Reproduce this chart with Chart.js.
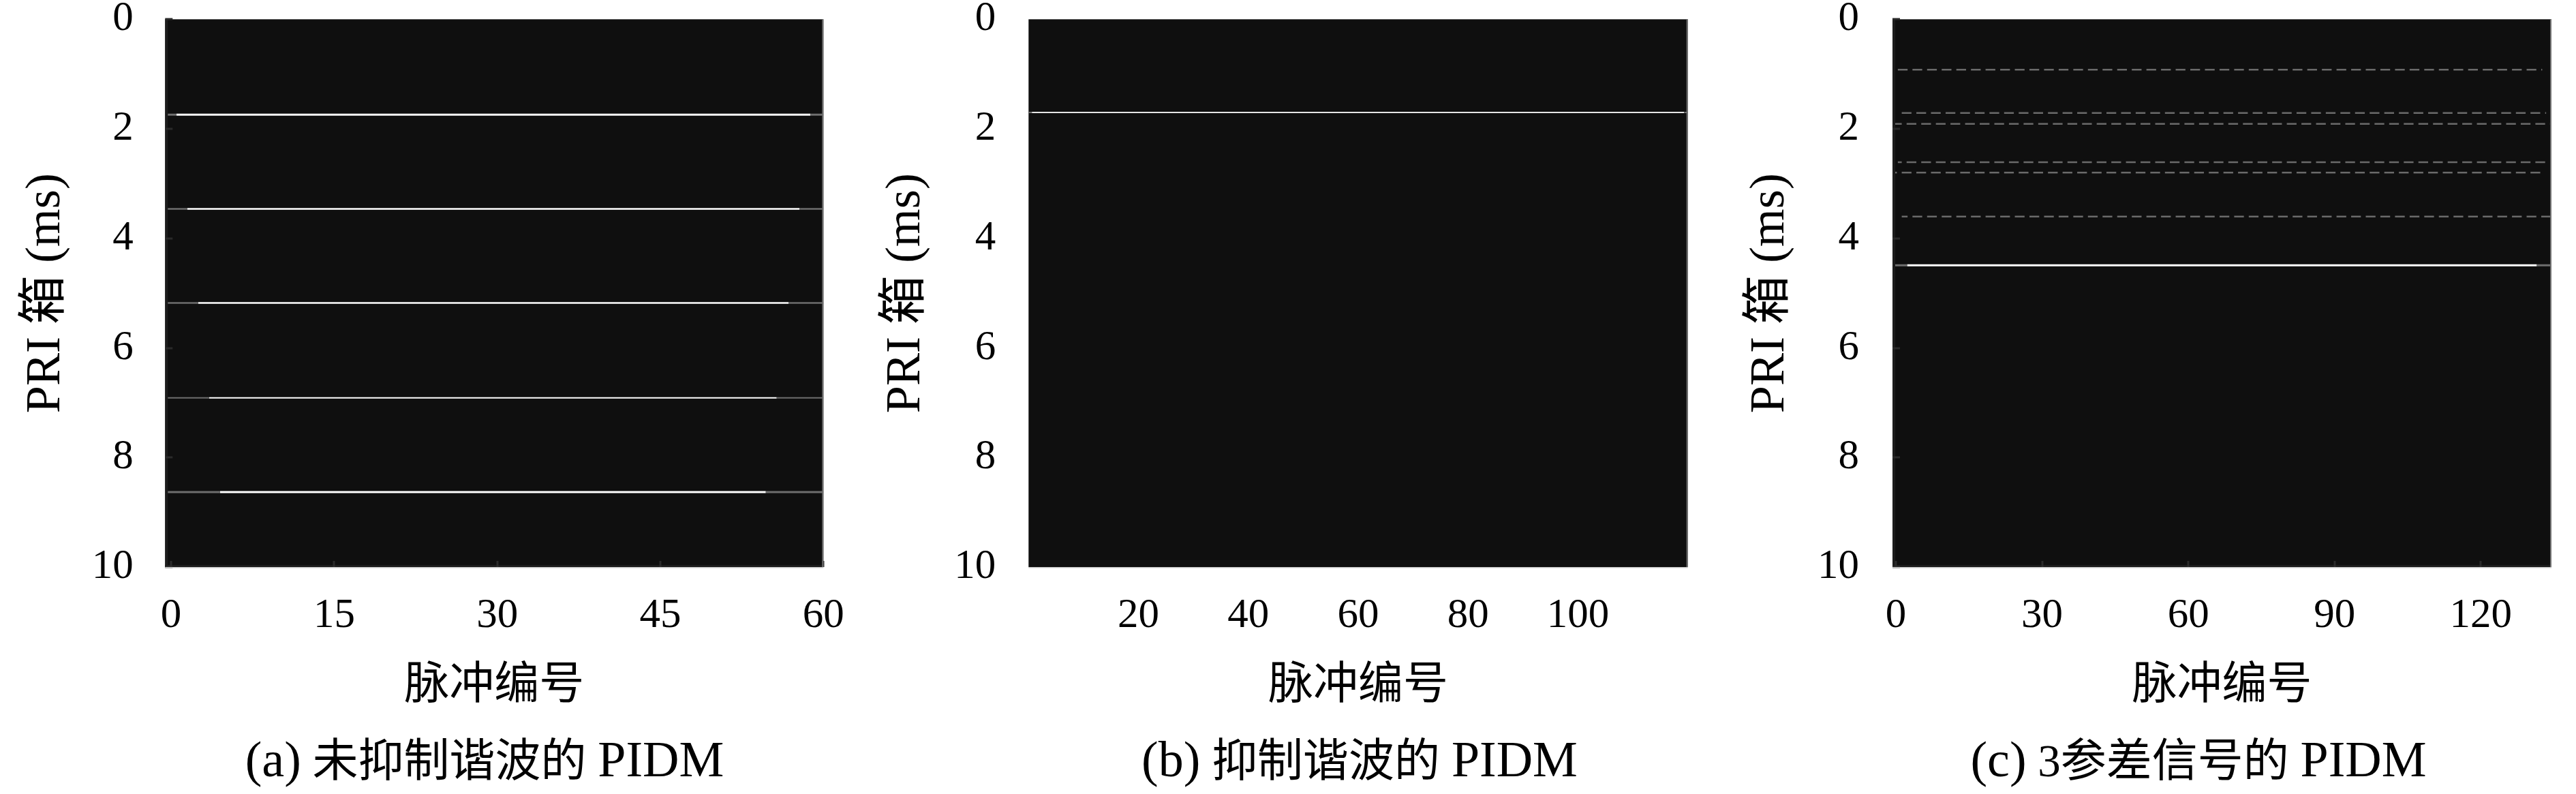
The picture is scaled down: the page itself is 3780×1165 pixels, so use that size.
<!DOCTYPE html>
<html><head><meta charset="utf-8">
<script src="https://cdn.jsdelivr.net/npm/chart.js@4/dist/chart.umd.min.js"></script>
<style>
html,body{margin:0;padding:0;background:#fff;}
#wrap{position:relative;width:3780px;height:1165px;overflow:hidden;background:#fff;}
canvas{position:absolute;top:0;}
.cap{position:absolute;top:1074px;width:1200px;text-align:center;font-family:'Liberation Serif','Noto Sans CJK SC',serif;font-size:67px;line-height:80px;color:#000;white-space:nowrap;}
.cap .lat{font-size:74px;}
</style></head><body>
<div id="wrap">
<canvas id="ca" width="1260" height="1165" style="left:0px"></canvas>
<canvas id="cb" width="1260" height="1165" style="left:1260px"></canvas>
<canvas id="cc" width="1260" height="1165" style="left:2520px"></canvas>
<div class="cap" id="capA" style="left:111px"></div>
<div class="cap" id="capB" style="left:1395px"></div>
<div class="cap" id="capC" style="left:2626px"></div>
</div>
<script>
// ---------- text ----------
const xTitle = '脉冲编号';
const yTitle = 'PRI 箱 (ms)';
const captionTags = ['(a)', '(b)', '(c)'];
const captionTexts = ['未抑制谐波的', '抑制谐波的', '3参差信号的'];
const captionTail = 'PIDM';

// ---------- ticks ----------
const yTicks = [0, 2, 4, 6, 8, 10];
const aXTicks = [0, 15, 30, 45, 60];
const bXTicks = [20, 40, 60, 80, 100];
const cXTicks = [0, 30, 60, 90, 120];

// ---------- axis ranges ----------
const yRange = [0, 10];
const aXRange = [-0.55, 60];
const bXRange = [0, 120];
const cXRange = [-0.7, 134.5];

// ---------- (a) PIDM without harmonic suppression ----------
const aRows = [1.74, 3.46, 5.18, 6.91, 8.63];      // PRI bin (ms)
const aBrightFrom = [0.5, 1.5, 2.5, 3.5, 4.5];     // pulse index
const aBrightTo = [58.8, 57.8, 56.8, 55.7, 54.7];

// ---------- (b) PIDM with harmonic suppression ----------
const bRows = [1.70];
const bBrightFrom = [0.6];
const bBrightTo = [119.3];

// ---------- (c) 3-stagger PIDM ----------
const cFaintRows = [0.92, 1.71, 1.91, 2.61, 2.80, 3.60];
const cFaintFrom = [0.4, 1.2, -0.7, 0.4, -0.7, 1.2];
const cFaintTo = [132.6, 133.4, 134.5, 133.4, 132.6, 134.5];
const cFaintLitStart = [0.4, 1.2, 2.2, 2.2, 1.2, 0.4]; // pulse where a lit pair begins
const cStaggerPeriod = 3;   // pulses per stagger cycle
const cLitPulses = 2;       // lit pulses per cycle
const cRows = [4.49];
const cBrightFrom = [2.3];
const cBrightTo = [131.5];

// ---------- styles ----------
const BG = '#0f0f0f';
const WHITE = '#ffffff';
const DIM = '#6e6e6e';
const aWidths = [3, 2.5, 2.5, 2, 3];
const SERIF = "'Liberation Serif','Noto Sans CJK SC',serif";

['capA', 'capB', 'capC'].forEach((id, i) => {
  const el = document.getElementById(id);
  const s1 = document.createElement('span'); s1.className = 'lat'; s1.textContent = captionTags[i];
  const t = document.createTextNode(' ' + captionTexts[i] + ' ');
  const s2 = document.createElement('span'); s2.className = 'lat'; s2.textContent = captionTail;
  el.appendChild(s1); el.appendChild(t); el.appendChild(s2);
});

function seg(x0, x1, y, color, width, extra) {
  return Object.assign({
    data: [{x: x0, y: y}, {x: x1, y: y}],
    borderColor: color, backgroundColor: color, borderWidth: width,
    pointRadius: 0, pointHoverRadius: 0, fill: false, tension: 0,
    borderCapStyle: 'butt', clip: 0
  }, extra || {});
}

const frame = {
  id: 'frame',
  beforeDatasetsDraw(chart) {
    const {ctx, chartArea: a} = chart;
    ctx.save();
    ctx.fillStyle = BG;
    ctx.fillRect(a.left, a.top, a.right - a.left, a.bottom - a.top);
    ctx.restore();
  },
  afterDatasetsDraw(chart, args, o) {
    const {ctx, chartArea: a, scales} = chart;
    ctx.save();
    if (o.inner) {
      ctx.fillStyle = '#1c1c1c';
      ctx.fillRect(a.left, a.top, 4, a.bottom - a.top);
      ctx.fillRect(a.left, a.bottom - 3, a.right - a.left, 3);
      ctx.strokeStyle = '#2a2a2a';
      ctx.lineWidth = 3;
      ctx.beginPath();
      for (const v of o.xTicks) {
        const px = Math.round(scales.x.getPixelForValue(v));
        ctx.moveTo(px, a.bottom); ctx.lineTo(px, a.bottom - 9);
      }
      for (const v of yTicks) {
        const py = Math.round(scales.y.getPixelForValue(v));
        ctx.moveTo(a.left, py); ctx.lineTo(a.left + 11, py);
      }
      ctx.stroke();
    }
    ctx.fillStyle = '#707070';
    ctx.fillRect(a.right - 2, a.top, 2, a.bottom - a.top);
    ctx.fillStyle = '#cccccc';
    ctx.fillRect(a.left, a.bottom, a.right - a.left, 1.5);
    ctx.restore();
  }
};

function zeroPad(s) { s.paddingTop = 0; s.paddingBottom = 0; s.paddingLeft = 0; s.paddingRight = 0; }

function makeChart(id, datasets, xRange, xTicks, geo, inner) {
  return new Chart(document.getElementById(id), {
    type: 'line',
    data: {datasets},
    plugins: [frame],
    options: {
      responsive: false, animation: false, events: [],
      layout: {autoPadding: false, padding: {left: geo.padL, right: geo.padR, top: 28.3, bottom: 117.4}},
      plugins: {legend: {display: false}, tooltip: {enabled: false}, title: {display: false},
                frame: {inner: inner, xTicks: xTicks}},
      scales: {
        x: {
          type: 'linear', min: xRange[0], max: xRange[1],
          grid: {display: false, drawTicks: false}, border: {display: false},
          afterBuildTicks: s => { s.ticks = xTicks.map(v => ({value: v})); },
          afterFit: s => { s.height = 215.6; zeroPad(s); },
          ticks: {autoSkip: false, maxRotation: 0, padding: 35, color: '#000',
                  font: {family: SERIF, size: 61, lineHeight: 1.2}},
          title: {display: true, text: xTitle, color: '#000', padding: 0,
                  font: {family: SERIF, size: 66, lineHeight: 1.2}}
        },
        y: {
          type: 'linear', reverse: true, min: yRange[0], max: yRange[1],
          grid: {display: false, drawTicks: false}, border: {display: false},
          afterBuildTicks: s => { s.ticks = yTicks.map(v => ({value: v})); },
          afterFit: s => { s.width = geo.yW; zeroPad(s); },
          ticks: {autoSkip: false, padding: geo.tickPad, color: '#000',
                  font: {family: SERIF, size: 61, lineHeight: 0.8}},
          title: {display: true, text: yTitle, color: '#000', padding: 0,
                  font: {family: SERIF, size: 72, lineHeight: 1.2}}
        }
      }
    }
  });
}

// ---- panel (a) ----
const aSets = [];
aRows.forEach((y, i) => {
  aSets.push(seg(aXRange[0], aBrightFrom[i], y, DIM, aWidths[i]));
  aSets.push(seg(aBrightTo[i], aXRange[1], y, DIM, aWidths[i]));
  aSets.push(seg(aBrightFrom[i], aBrightTo[i], y, WHITE, aWidths[i]));
});
makeChart('ca', aSets, aXRange, aXTicks, {padL: 24.8, padR: 51.7, yW: 217.5, tickPad: 46.6}, true);

// ---- panel (b) ----
const bSets = [];
bRows.forEach((y, i) => {
  bSets.push(seg(bBrightTo[i], bXRange[1], y, DIM, 2));
  bSets.push(seg(bXRange[0], bBrightFrom[i], y, DIM, 2));
  bSets.push(seg(bBrightFrom[i], bBrightTo[i], y, '#e4e4e4', 2));
});
makeChart('cb', bSets, bXRange, bXTicks, {padL: 26.8, padR: 43.3, yW: 222.5, tickPad: 48}, false);

// ---- panel (c) ----
function unitPx(chart) {
  const s = chart.scales && chart.scales.x;
  if (!s || !s.width) return 0;
  return Math.abs(s.getPixelForValue(1) - s.getPixelForValue(0));
}
const cSets = [];
cFaintRows.forEach((y, i) => {
  cSets.push(seg(cFaintFrom[i], cFaintTo[i], y, '#6a6a6a', 2.5, {
    borderDash: ctx => {
      const u = unitPx(ctx.chart);
      return u ? [cLitPulses * u, (cStaggerPeriod - cLitPulses) * u] : [];
    },
    borderDashOffset: ctx => {
      const u = unitPx(ctx.chart);
      const d = ((cFaintFrom[i] - cFaintLitStart[i]) % cStaggerPeriod + cStaggerPeriod) % cStaggerPeriod;
      return d * u;
    }
  }));
});
cRows.forEach((y, i) => {
  cSets.push(seg(cXRange[0], cBrightFrom[i], y, DIM, 3));
  cSets.push(seg(cBrightTo[i], cXRange[1], y, DIM, 3));
  cSets.push(seg(cBrightFrom[i], cBrightTo[i], y, WHITE, 3));
});
makeChart('cc', cSets, cXRange, cXTicks, {padL: 34.8, padR: 36, yW: 222.2, tickPad: 49}, true);
</script>
</body></html>
